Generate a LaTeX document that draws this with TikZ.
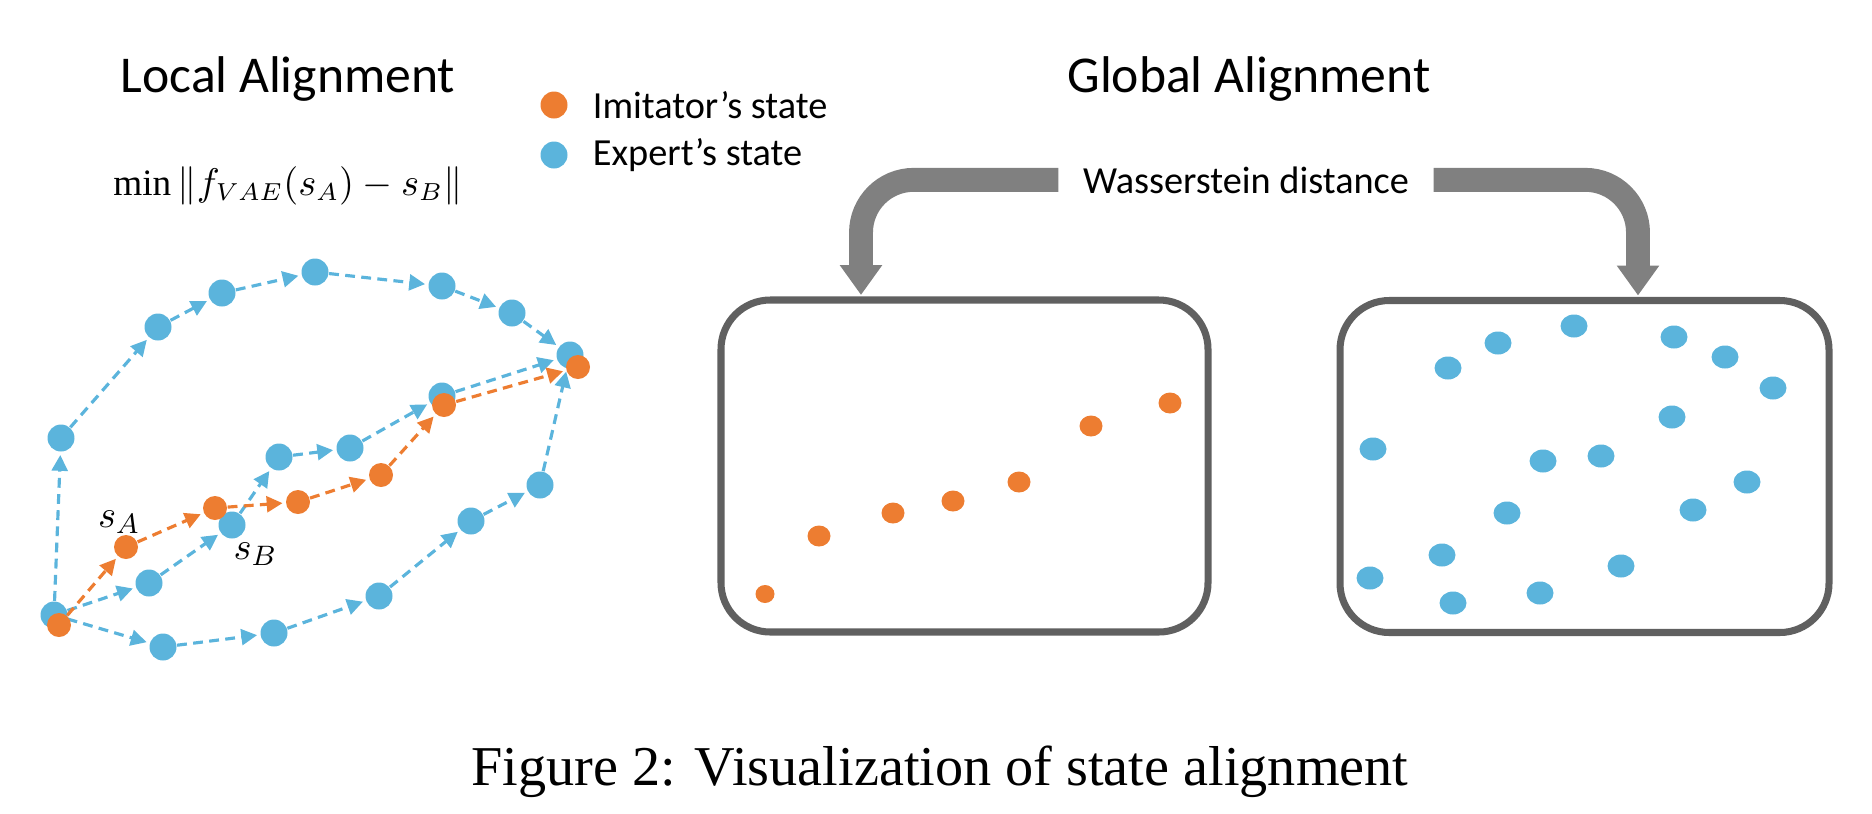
\documentclass[tikz,border=0pt]{standalone}
\usepackage{fontspec}
\setmainfont{Liberation Serif}
\newfontfamily\calibri{Carlito}
\usepackage{tikz}
\usetikzlibrary{shapes.geometric,positioning,arrows.meta}
\definecolor{expblue}{RGB}{91,180,220}
\definecolor{imorange}{RGB}{237,125,49}
\definecolor{wgray}{RGB}{128,128,128}
\definecolor{boxgray}{RGB}{96,96,96}

\begin{document}
\begin{tikzpicture}[x=0.1mm,y=-0.1mm]
		\tikzstyle{expert}=[circle, fill=expblue, minimum size=2.7mm, inner sep=0]
		\tikzstyle{imitator}=[circle, fill=imorange, minimum size=2.4mm, inner sep=0]
		\tikzstyle{elink}=[draw=expblue, line width=0.9pt, dash pattern=on 2.8pt off 1.8pt, -{Triangle[length=4.5pt,width=4.5pt]}, shorten >=0.8pt]
		\tikzstyle{ilink}=[elink, draw=imorange]
		\tikzstyle{bdot}=[ellipse, fill=expblue, minimum width=2.7mm, minimum height=2.3mm, inner sep=0]
		\tikzstyle{odot}=[ellipse, fill=imorange, minimum width=2.3mm, minimum height=2.1mm, inner sep=0]
		\tikzstyle{box}=[rectangle, draw=boxgray, line width=2pt, rounded corners=14pt, minimum height=33.2mm, inner sep=0, outer sep=0]
		\tikzstyle{bigarrow}=[draw=wgray, line width=6.8pt, rounded corners=15pt, -{Triangle[length=8.5pt,width=11.5pt]}]
		\tikzstyle{heading}=[font=\calibri\fontsize{14.7pt}{17pt}\selectfont, anchor=base, inner sep=0]
		\tikzstyle{small}=[font=\calibri\fontsize{10.9pt}{13pt}\selectfont, inner sep=0]
		\tikzstyle{every label}=[font=\fontsize{11pt}{13pt}\selectfont, inner sep=0.5pt]
		\useasboundingbox (0,0) rectangle (1872,813);
		
		% headings and legend
		\node[heading] (loc) at (288,92) {Local Alignment};
		\node[heading] (glob) at (1249,92) {Global Alignment};
		\node[anchor=base, inner sep=0, font=\fontsize{10.6pt}{13pt}\selectfont] (obj) at (288,195) {$\min\|f_{VAE}(s_A)-s_B\|$};
		\node[imitator, minimum size=2.7mm] (li) at (554,105) {};
		\node[small, right=2.4mm of li] (lit) {Imitator’s state};
		\node[expert] (le) at (554,155) {};
		\node[small, right=2.4mm of le] (let) {Expert’s state};
		
		% expert trajectories
		\node[expert] (s)  at (54,615) {};
		\node[expert] (u1) at (61,438) {};
		\node[expert] (u2) at (158,327) {};
		\node[expert] (u3) at (222,293) {};
		\node[expert] (u4) at (315,272) {};
		\node[expert] (u5) at (442,286) {};
		\node[expert] (u6) at (512,313) {};
		\node[expert] (e)  at (570,355) {};
		\node[expert] (m1) at (149,583) {};
		\node[expert] (m2) [label={[xshift=-0.9mm,yshift=-0.4mm]-55:$s_B$}] at (232,525) {};
		\node[expert] (m3) at (279,457) {};
		\node[expert] (m4) at (350,448) {};
		\node[expert] (m5) at (442,396) {};
		\node[expert] (b1) at (163,647) {};
		\node[expert] (b2) at (274,633) {};
		\node[expert] (b3) at (379,596) {};
		\node[expert] (b4) at (471,521) {};
		\node[expert] (b5) at (540,485) {};
		
		\path
		(s) edge [elink] (u1)
		(u1) edge [elink] (u2)
		(u2) edge [elink] (u3)
		(u3) edge [elink] (u4)
		(u4) edge [elink] (u5)
		(u5) edge [elink] (u6)
		(u6) edge [elink] (e)
		
		(s) edge [elink] (m1)
		(m1) edge [elink] (m2)
		(m2) edge [elink] (m3)
		(m3) edge [elink] (m4)
		(m4) edge [elink] (m5)
		(m5) edge [elink] (e)
		
		(s) edge [elink] (b1)
		(b1) edge [elink] (b2)
		(b2) edge [elink] (b3)
		(b3) edge [elink] (b4)
		(b4) edge [elink] (b5)
		(b5) edge [elink] (e)
		;
		
		% imitator trajectory
		\node[imitator] (i0) at (59,625) {};
		\node[imitator] (i1) [label={[xshift=2.3mm]120:$s_A$}] at (126,547) {};
		\node[imitator] (i2) at (215,508) {};
		\node[imitator] (i3) at (298,502) {};
		\node[imitator] (i4) at (381,475) {};
		\node[imitator] (i5) at (444,405) {};
		\node[imitator] (i6) at (578,367) {};
		
		\path
		(i0) edge [ilink] (i1)
		(i1) edge [ilink] (i2)
		(i2) edge [ilink] (i3)
		(i3) edge [ilink] (i4)
		(i4) edge [ilink] (i5)
		(i5) edge [ilink] (i6)
		;
		
		% global alignment
		\node[box, minimum width=48.7mm] (lbox) at (964.5,466) {};
		\node[box, minimum width=48.9mm] (rbox) at (1584.5,466.5) {};
		\node[small, anchor=base, inner xsep=2.4mm] (wd) at (1246,193) {Wasserstein distance};
		\draw[bigarrow] (wd.west) -| ([xshift=14mm,yshift=0.5mm]lbox.north west);
		\draw[bigarrow] (wd.east) -| ([xshift=29.8mm,yshift=0.5mm]rbox.north west);
		
		\node[odot, minimum width=1.9mm, minimum height=1.8mm] (p1) at (765,594) {};
		\node[odot] (p2) at (819,536) {};
		\node[odot] (p3) at (893,513) {};
		\node[odot] (p4) at (953,501) {};
		\node[odot] (p5) at (1019,482) {};
		\node[odot] (p6) at (1091,426) {};
		\node[odot] (p7) at (1170,403) {};
		
		\node[bdot] (q1)  at (1448,368) {};
		\node[bdot] (q2)  at (1498,343) {};
		\node[bdot] (q3)  at (1574,326) {};
		\node[bdot] (q4)  at (1674,337) {};
		\node[bdot] (q5)  at (1725,357) {};
		\node[bdot] (q6)  at (1773,388) {};
		\node[bdot] (q7)  at (1672,417) {};
		\node[bdot] (q8)  at (1373,449) {};
		\node[bdot] (q9)  at (1543,461) {};
		\node[bdot] (q10) at (1601,456) {};
		\node[bdot] (q11) at (1747,482) {};
		\node[bdot] (q12) at (1693,510) {};
		\node[bdot] (q13) at (1507,513) {};
		\node[bdot] (q14) at (1442,555) {};
		\node[bdot] (q15) at (1621,566) {};
		\node[bdot] (q16) at (1370,578) {};
		\node[bdot] (q17) at (1453,603) {};
		\node[bdot] (q18) at (1540,593) {};
		
		\node[anchor=base, inner sep=0, font=\fontsize{16pt}{19pt}\selectfont] (cap) at (940,785) {Figure 2: Visualization of state alignment};
\end{tikzpicture}
\end{document}
